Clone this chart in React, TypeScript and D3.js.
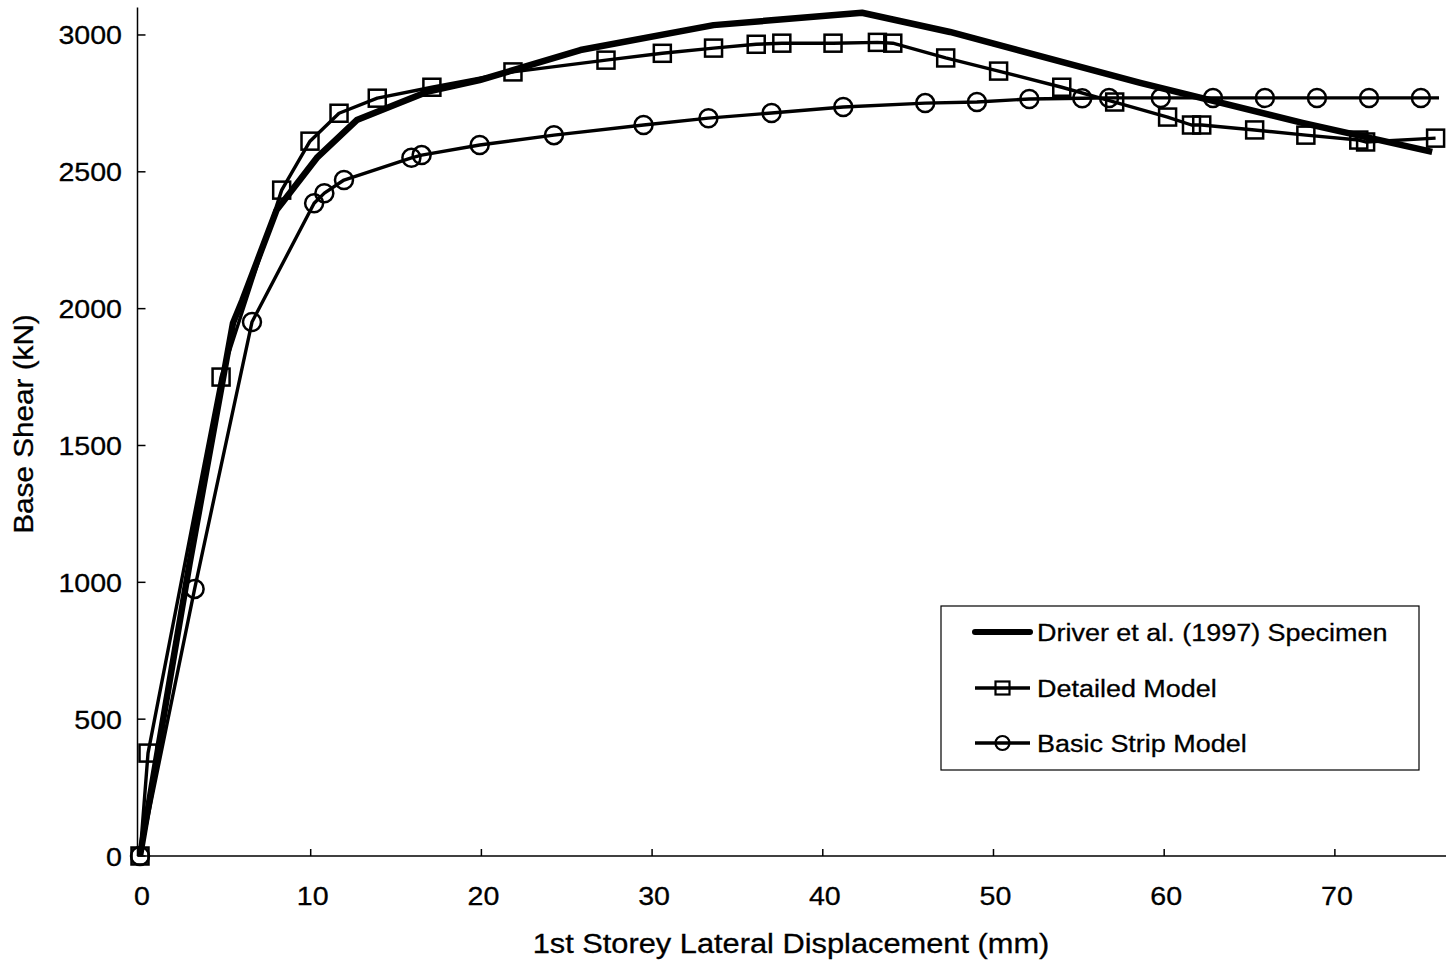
import React from "react";
import * as d3 from "d3";

// Driver et al. (1997) Specimen (thick line)
const driverX = [0, 2.9, 5.45, 6.0, 8.0, 10.4, 12.7, 16.8, 19.9, 25.8, 33.6, 42.3, 47.45, 58.6, 68.1, 75.7];
const driverY = [0, 1067, 1948, 2031, 2360, 2554, 2689, 2792, 2835, 2945, 3036, 3081, 3011, 2825, 2679, 2573];

// Detailed Model (squares)
const detailedX = [0, 0.47, 4.75, 8.3, 9.96, 11.66, 13.9, 17.1, 21.85, 27.3, 30.6, 33.6, 36.1, 37.6, 40.6, 43.2, 44.1, 47.2, 50.3, 54.0, 57.1, 60.2, 61.6, 62.2, 65.3, 68.3, 71.4, 71.8, 75.9];
const detailedY = [0, 376, 1750, 2433, 2612, 2714, 2769, 2809, 2865, 2908, 2933, 2952, 2966, 2970, 2970, 2973, 2970, 2916, 2868, 2809, 2755, 2700, 2671, 2671, 2653, 2634, 2616, 2609, 2623];

// Basic Strip Model (circles)
const stripX = [0, 3.2, 6.56, 10.2, 10.8, 11.95, 15.9, 16.5, 19.9, 24.25, 29.5, 33.3, 37.0, 41.2, 46.0, 49.03, 52.1, 55.2, 56.77, 59.8, 62.86, 65.9, 68.95, 72.0, 75.04, 76.1];
const stripY = [0, 976, 1951, 2385, 2422, 2470, 2551, 2561, 2598, 2634, 2671, 2696, 2715, 2737, 2751, 2755, 2766, 2769, 2770, 2770, 2770, 2770, 2770, 2770, 2770, 2770];
const stripMarkerCount = 25; // last point carries no marker

const xTicks = [0, 10, 20, 30, 40, 50, 60, 70];
const yTicks = [0, 500, 1000, 1500, 2000, 2500, 3000];

const xTitle = "1st Storey Lateral Displacement (mm)";
const yTitle = "Base Shear (kN)";
const legendLabels = ["Driver et al. (1997) Specimen", "Detailed Model", "Basic Strip Model"];

const FONT = "'Liberation Sans', Arial, Helvetica, sans-serif";
const SX = 1.1;

export default function App() {
  const x = d3.scaleLinear().domain([0, 76]).range([140, 1437.3]);
  const y = d3.scaleLinear().domain([0, 3100]).range([856, 7.6]);

  const toPts = (xs: number[], ys: number[]) => xs.map((v, i) => [v, ys[i]] as [number, number]);
  const line = d3.line<[number, number]>().x((d) => x(d[0])).y((d) => y(d[1]));

  const driver = toPts(driverX, driverY);
  const detailed = toPts(detailedX, detailedY);
  const strip = toPts(stripX, stripY);

  const axisX0 = 137.5;
  const axisY0 = 856;

  const T = (props: { x: number; y: number; size: number; anchor?: string; rotate?: number; children: React.ReactNode }) => (
    <text
      transform={`translate(${props.x},${props.y})${props.rotate ? ` rotate(${props.rotate})` : ""} scale(${SX},1)`}
      fontSize={props.size}
      fontFamily={FONT}
      textAnchor={props.anchor || "start"}
      fill="#000"
      stroke="#000"
      strokeWidth={0.3}
    >
      {props.children}
    </text>
  );

  const sq = 17;
  const cr = 9;

  const legX0 = 975;
  const legX1 = 1030;
  const legYs = [632, 688, 743];

  return (
    <svg width={1446} height={972} style={{ position: "absolute", left: 0, top: 0, background: "#fff" }}>
      <rect x={0} y={0} width={1446} height={972} fill="#fff" />

      {/* axes */}
      <line x1={axisX0} y1={7.6} x2={axisX0} y2={axisY0} stroke="#000" strokeWidth={1.5} />
      <line x1={axisX0} y1={axisY0} x2={1446} y2={axisY0} stroke="#000" strokeWidth={1.5} />
      {yTicks.map((t) => (
        <g key={"yt" + t}>
          <line x1={axisX0} x2={axisX0 + 8} y1={y(t)} y2={y(t)} stroke="#000" strokeWidth={1.5} />
          <T x={122} y={y(t) + 9.5} size={26} anchor="end">{t}</T>
        </g>
      ))}
      {xTicks.map((t) => (
        <g key={"xt" + t}>
          <line x1={x(t)} x2={x(t)} y1={axisY0} y2={axisY0 - 7} stroke="#000" strokeWidth={1.5} />
          <T x={x(t) + 2} y={905} size={26} anchor="middle">{t}</T>
        </g>
      ))}

      <T x={791} y={953} size={28} anchor="middle">{xTitle}</T>
      <T x={33} y={424} size={27} anchor="middle" rotate={-90}>{yTitle}</T>

      {/* series */}
      <path d={line(strip) || ""} fill="none" stroke="#000" strokeWidth={3.4} strokeLinejoin="round" />
      {strip.slice(0, stripMarkerCount).map((p, i) => (
        <circle key={"c" + i} cx={x(p[0])} cy={y(p[1])} r={cr} fill="none" stroke="#000" strokeWidth={2.5} />
      ))}
      <path d={line(detailed) || ""} fill="none" stroke="#000" strokeWidth={3.4} strokeLinejoin="round" />
      {detailed.map((p, i) => (
        <rect key={"s" + i} x={x(p[0]) - sq / 2} y={y(p[1]) - sq / 2} width={sq} height={sq} fill="none" stroke="#000" strokeWidth={2.5} />
      ))}
      <path d={line(driver) || ""} fill="none" stroke="#000" strokeWidth={6.5} strokeLinejoin="round" />

      {/* legend */}
      <rect x={941} y={606} width={478} height={164} fill="#fff" stroke="#000" strokeWidth={1.2} />
      <line x1={legX0} x2={legX1} y1={legYs[0]} y2={legYs[0]} stroke="#000" strokeWidth={6} strokeLinecap="round" />
      <line x1={legX0} x2={legX1} y1={legYs[1]} y2={legYs[1]} stroke="#000" strokeWidth={3.4} />
      <rect x={(legX0 + legX1) / 2 - 7} y={legYs[1] - 6.5} width={14} height={13} fill="none" stroke="#000" strokeWidth={2.2} />
      <line x1={legX0} x2={legX1} y1={legYs[2]} y2={legYs[2]} stroke="#000" strokeWidth={3.4} />
      <circle cx={(legX0 + legX1) / 2} cy={legYs[2]} r={7} fill="none" stroke="#000" strokeWidth={2.2} />
      {legendLabels.map((l, i) => (
        <T key={"l" + i} x={1037} y={legYs[i] + 9} size={24.5}>{l}</T>
      ))}
    </svg>
  );
}
